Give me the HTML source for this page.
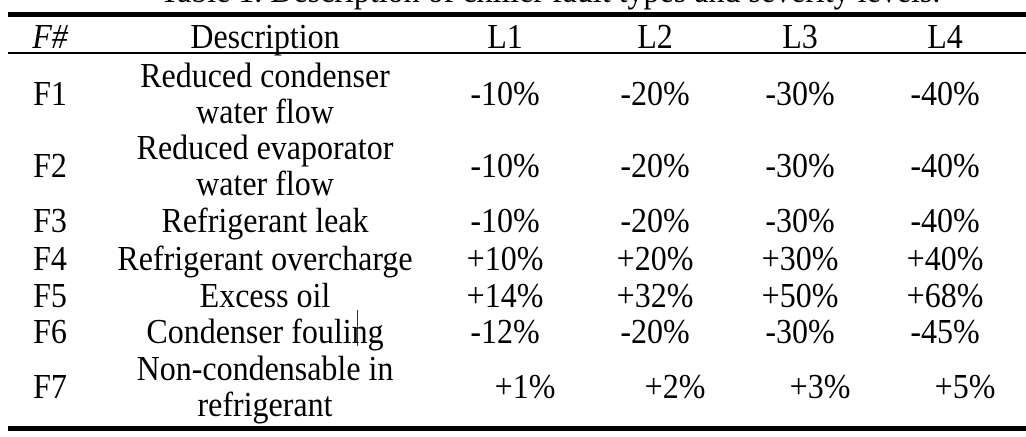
<!DOCTYPE html>
<html><head><meta charset="utf-8"><style>
body{margin:0;width:1026px;height:437px;background:#fff;overflow:hidden;position:relative;font-family:"Liberation Serif",serif;color:#000}
.t{position:absolute;font-size:32px;line-height:36px;white-space:nowrap;transform:translate(-50%,-50%) scaleY(1.1)}
.l{position:absolute;background:#000;left:8px;right:0}
</style></head><body>
<div class="t" style="left:550px;top:-10px">Table 1. Description of chiller fault types and severity levels.</div>
<div class="l" style="top:12px;height:5px"></div>
<div class="l" style="top:52px;height:2px"></div>
<div class="l" style="top:426px;height:5px"></div>
<div style="position:absolute;left:357px;top:310px;width:1px;height:36px;background:#333"></div>
<div id="tbl"></div>
<script>
const ids=["F1","F2","F3","F4","F5","F6","F7"];
const descs=[["Reduced condenser","water flow"],["Reduced evaporator","water flow"],["Refrigerant leak"],["Refrigerant overcharge"],["Excess oil"],["Condenser fouling"],["Non-condensable in","refrigerant"]];
const L1=["-10%","-10%","-10%","+10%","+14%","-12%","+1%"];
const L2=["-20%","-20%","-20%","+20%","+32%","-20%","+2%"];
const L3=["-30%","-30%","-30%","+30%","+50%","-30%","+3%"];
const L4=["-40%","-40%","-40%","+40%","+68%","-45%","+5%"];
const rowY=[93,165,220,258,295,331,386];
const colX=[505,655,800,945];
const tbl=document.getElementById('tbl');
function add(txt,x,y,name,italic){
  const d=document.createElement('div');
  d.className='t';d.textContent=txt;
  d.style.left=x+'px';d.style.top=y+'px';
  if(italic)d.style.fontStyle='italic';
  
  
  tbl.appendChild(d);
}
add("F#",50,36,"header-fault-id",true);
add("Description",265,36,"header-description");
["L1","L2","L3","L4"].forEach((h,i)=>add(h,colX[i],36,"header-"+h.toLowerCase()));
const levels=[L1,L2,L3,L4];
ids.forEach((id,r)=>{
  const y=rowY[r];
  add(id,50,y,"fault-id-"+id.toLowerCase());
  const ds=descs[r];
  if(ds.length===2){add(ds[0],265,y-18,"description-"+id.toLowerCase()+"-line1");add(ds[1],265,y+18,"description-"+id.toLowerCase()+"-line2");}
  else add(ds[0],265,y,"description-"+id.toLowerCase());
  const off=id==="F7"?20:0;
  levels.forEach((arr,i)=>add(arr[r],colX[i]+off,y,"value-"+id.toLowerCase()+"-l"+(i+1)));
});
</script>
</body></html>
